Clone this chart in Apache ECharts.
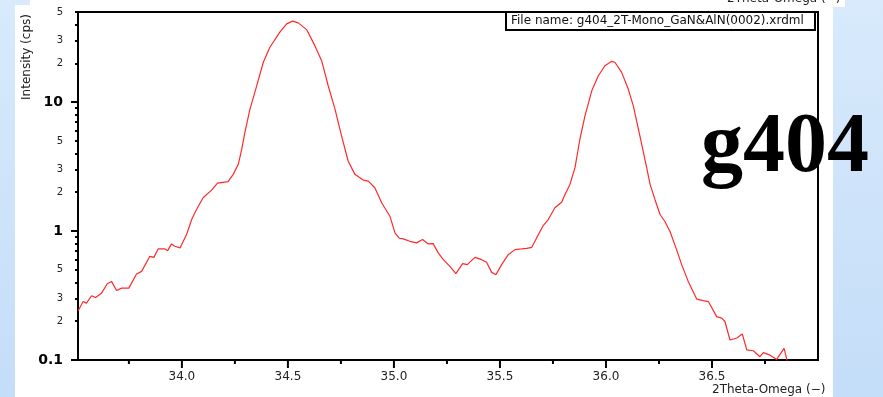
<!DOCTYPE html>
<html><head><meta charset="utf-8">
<script src="https://cdn.jsdelivr.net/npm/echarts@6/dist/echarts.min.js"></script>
<style>
html,body{margin:0;padding:0;}
body{width:883px;height:397px;overflow:hidden;position:relative;background:linear-gradient(#d8eafc,#c4ddf8);}
#p1{position:absolute;left:15px;top:5px;width:818px;height:392px;background:#fff;}
#p2{position:absolute;left:30px;top:0;width:815px;height:7px;background:#fff;}
#c{position:absolute;left:0;top:0;width:883px;height:397px;}
</style></head><body>
<div id="p1"></div><div id="p2"></div><div id="c"></div>
<script>
// 2Theta-Omega positions (deg)
const twoTheta = [33.511,33.534,33.550,33.574,33.593,33.621,33.648,33.668,33.692,33.716,33.750,33.786,33.810,33.849,33.868,33.888,33.920,33.933,33.951,33.967,33.991,
34.022,34.046,34.069,34.100,34.140,34.168,34.218,34.242,34.266,34.282,34.297,34.321,34.344,34.384,34.415,34.462,34.494,34.522,34.549,34.588,34.627,34.659,34.690,34.722,34.753,34.784,34.816,34.855,34.879,34.910,34.942,34.981,
35.005,35.025,35.044,35.075,35.107,35.135,35.162,35.185,35.209,35.233,35.264,35.292,35.324,35.346,35.382,35.414,35.437,35.461,35.481,35.508,35.539,35.571,35.602,35.626,35.650,35.673,35.704,35.728,35.759,35.791,35.807,35.830,35.854,35.877,35.901,35.933,35.964,35.995,
36.027,36.042,36.074,36.105,36.129,36.160,36.192,36.208,36.231,36.255,36.278,36.302,36.333,36.357,36.388,36.428,36.459,36.483,36.522,36.546,36.561,36.585,36.617,36.643,36.664,36.695,36.726,36.742,36.774,36.805,36.840,36.855];
// Intensity (cps)
const intensity = [0.241,0.284,0.276,0.315,0.305,0.330,0.390,0.407,0.346,0.361,0.361,0.465,0.487,0.637,0.625,0.727,0.727,0.705,0.795,0.762,0.740,
0.939,1.229,1.470,1.813,2.077,2.355,2.415,2.753,3.292,4.308,5.810,8.822,11.90,20.37,26.65,34.86,40.46,42.46,41.19,36.52,27.42,20.96,13.39,8.822,5.467,3.493,2.753,2.485,2.441,2.169,1.658,1.304,
0.968,0.880,0.870,0.833,0.810,0.859,0.795,0.799,0.677,0.600,0.532,0.467,0.559,0.549,0.625,0.600,0.572,0.478,0.459,0.549,0.656,0.718,0.727,0.735,0.748,0.885,1.104,1.229,1.515,1.675,1.923,2.300,3.103,5.153,7.823,12.24,16.02,19.16,
20.73,20.37,17.02,12.62,9.359,5.467,3.103,2.300,1.759,1.344,1.186,0.991,0.718,0.549,0.407,0.297,0.289,0.284,0.217,0.211,0.199,0.143,0.148,0.159,0.120,0.118,0.106,0.114,0.109,0.101,0.123,0.098];

const xTickLabels = [34.0, 34.5, 35.0, 35.5, 36.0, 36.5];
const xMinorTicks = [33.75, 34.25, 34.75, 35.25, 35.75, 36.25, 36.75];
const yLabelValues = [0.1, 0.2, 0.3, 0.5, 1, 2, 3, 5, 10, 20, 30, 50];
const yLabelTexts  = ['0.1','2','3','5','1','2','3','5','10','2','3','5'];
const yMajorTicks = [0.1, 1, 10];
const yMinorTicks = [0.2,0.3,0.4,0.5,0.6,0.7,0.8,0.9,2,3,4,5,6,7,8,9,20,30,40,50];

const X_MIN = 33.51, X_MAX = 37.0, Y_MIN = 0.1, Y_MAX = 50;
// helper overlay axes carry decade positions shifted by +2 so they never cross zero
const L = v => Math.log10(v) + 2;
const data = twoTheta.map((x, i) => [x, intensity[i]]);
const FONT = 'DejaVu Sans';

const chart = echarts.init(document.getElementById('c'), null, {renderer: 'canvas'});
chart.setOption({
  backgroundColor: 'transparent',
  animation: false,
  grid: {left: 78, right: 65, top: 12, bottom: 37, show: true, borderColor: '#000', borderWidth: 2, backgroundColor: 'transparent'},
  xAxis: [
    {type: 'value', min: X_MIN, max: X_MAX, position: 'bottom',
     axisLine: {show: true, onZero: false, lineStyle: {color: '#000', width: 2}},
     axisTick: {show: false},
     axisLabel: {show: true, customValues: xTickLabels, formatter: v => v.toFixed(1), color: '#222', fontFamily: FONT, fontSize: 12, margin: 11},
     splitLine: {show: false}}
  ],
  yAxis: [
    {type: 'log', logBase: 10, min: Y_MIN, max: Y_MAX, position: 'left',
     axisLine: {show: true, onZero: false, lineStyle: {color: '#000', width: 2}},
     axisTick: {show: false}, axisLabel: {show: false}, splitLine: {show: false}},
    {type: 'value', min: L(Y_MIN), max: L(Y_MAX), position: 'left', offset: 0,
     axisLine: {show: false, onZero: false},
     axisTick: {show: true, customValues: yMajorTicks.map(L), length: 7, lineStyle: {color: '#000', width: 2}},
     axisLabel: {show: true, customValues: yLabelValues.map(L), margin: 15,
       formatter: v => {
         let idx = 0, best = 1e9;
         yLabelValues.forEach((y, i) => { const d = Math.abs(L(y) - v); if (d < best) { best = d; idx = i; } });
         const t = yLabelTexts[idx];
         return yMajorTicks.indexOf(yLabelValues[idx]) >= 0 ? '{b|' + t + '}' : '{s|' + t + '}';
       },
       rich: {b: {fontFamily: FONT, fontSize: 14, fontWeight: 'bold', color: '#000'},
              s: {fontFamily: FONT, fontSize: 10, color: '#222'}}},
     splitLine: {show: false}},
    {type: 'value', min: L(Y_MIN), max: L(Y_MAX), position: 'left', offset: 0,
     axisLine: {show: false, onZero: false},
     axisTick: {show: true, customValues: yMinorTicks.map(L), length: 3, lineStyle: {color: '#000', width: 2}},
     axisLabel: {show: false}, splitLine: {show: false}}
  ],
  series: [
    {type: 'line', xAxisIndex: 0, yAxisIndex: 0, data: data, showSymbol: false, symbol: 'none',
     lineStyle: {color: '#ff2a2a', width: 1.2}, clip: true, z: 5}
  ]
});

// x-axis tick marks: positions come from the chart's own x/y scales
function tickGraphics(values, len) {
  return values.map(v => {
    const p = chart.convertToPixel({xAxisIndex: 0, yAxisIndex: 0}, [v, Y_MIN]);
    return {type: 'line', z: 200, silent: true,
            shape: {x1: p[0], y1: p[1], x2: p[0], y2: p[1] + len},
            style: {stroke: '#000', lineWidth: 2}};
  });
}

const texts = [
  {type: 'text', x: 27, y: 57, rotation: Math.PI / 2, z: 50,
   style: {text: 'Intensity (cps)', fontFamily: FONT, fontSize: 12, fill: '#222', align: 'center', verticalAlign: 'middle'}},
  {type: 'text', x: 712, y: 384, z: 50,
   style: {text: '2Theta-Omega (\u2212)', fontFamily: FONT, fontSize: 12, fill: '#222', align: 'left', verticalAlign: 'top'}},
  {type: 'text', x: 727, y: -7, z: 50,
   style: {text: '2Theta-Omega (\u2212)', fontFamily: FONT, fontSize: 12, fill: '#222', align: 'left', verticalAlign: 'top'}},
  {type: 'rect', z: 60, shape: {x: 506, y: 12, width: 309, height: 18},
   style: {fill: '#fff', stroke: '#000', lineWidth: 2}},
  {type: 'text', x: 511, y: 21, z: 61,
   style: {text: 'File name: g404_2T-Mono_GaN&AlN(0002).xrdml', fontFamily: FONT, fontSize: 12, fill: '#111', align: 'left', verticalAlign: 'middle'}},
  {type: 'text', x: 701, y: 149, z: 100,
   style: {text: 'g404', fontFamily: '"Liberation Serif", serif', fontSize: 84, fontWeight: 'bold', fill: '#000', align: 'left', verticalAlign: 'middle'}}
];

chart.setOption({graphic: texts.concat(tickGraphics(xTickLabels, 8), tickGraphics(xMinorTicks, 4))});
</script></body></html>
